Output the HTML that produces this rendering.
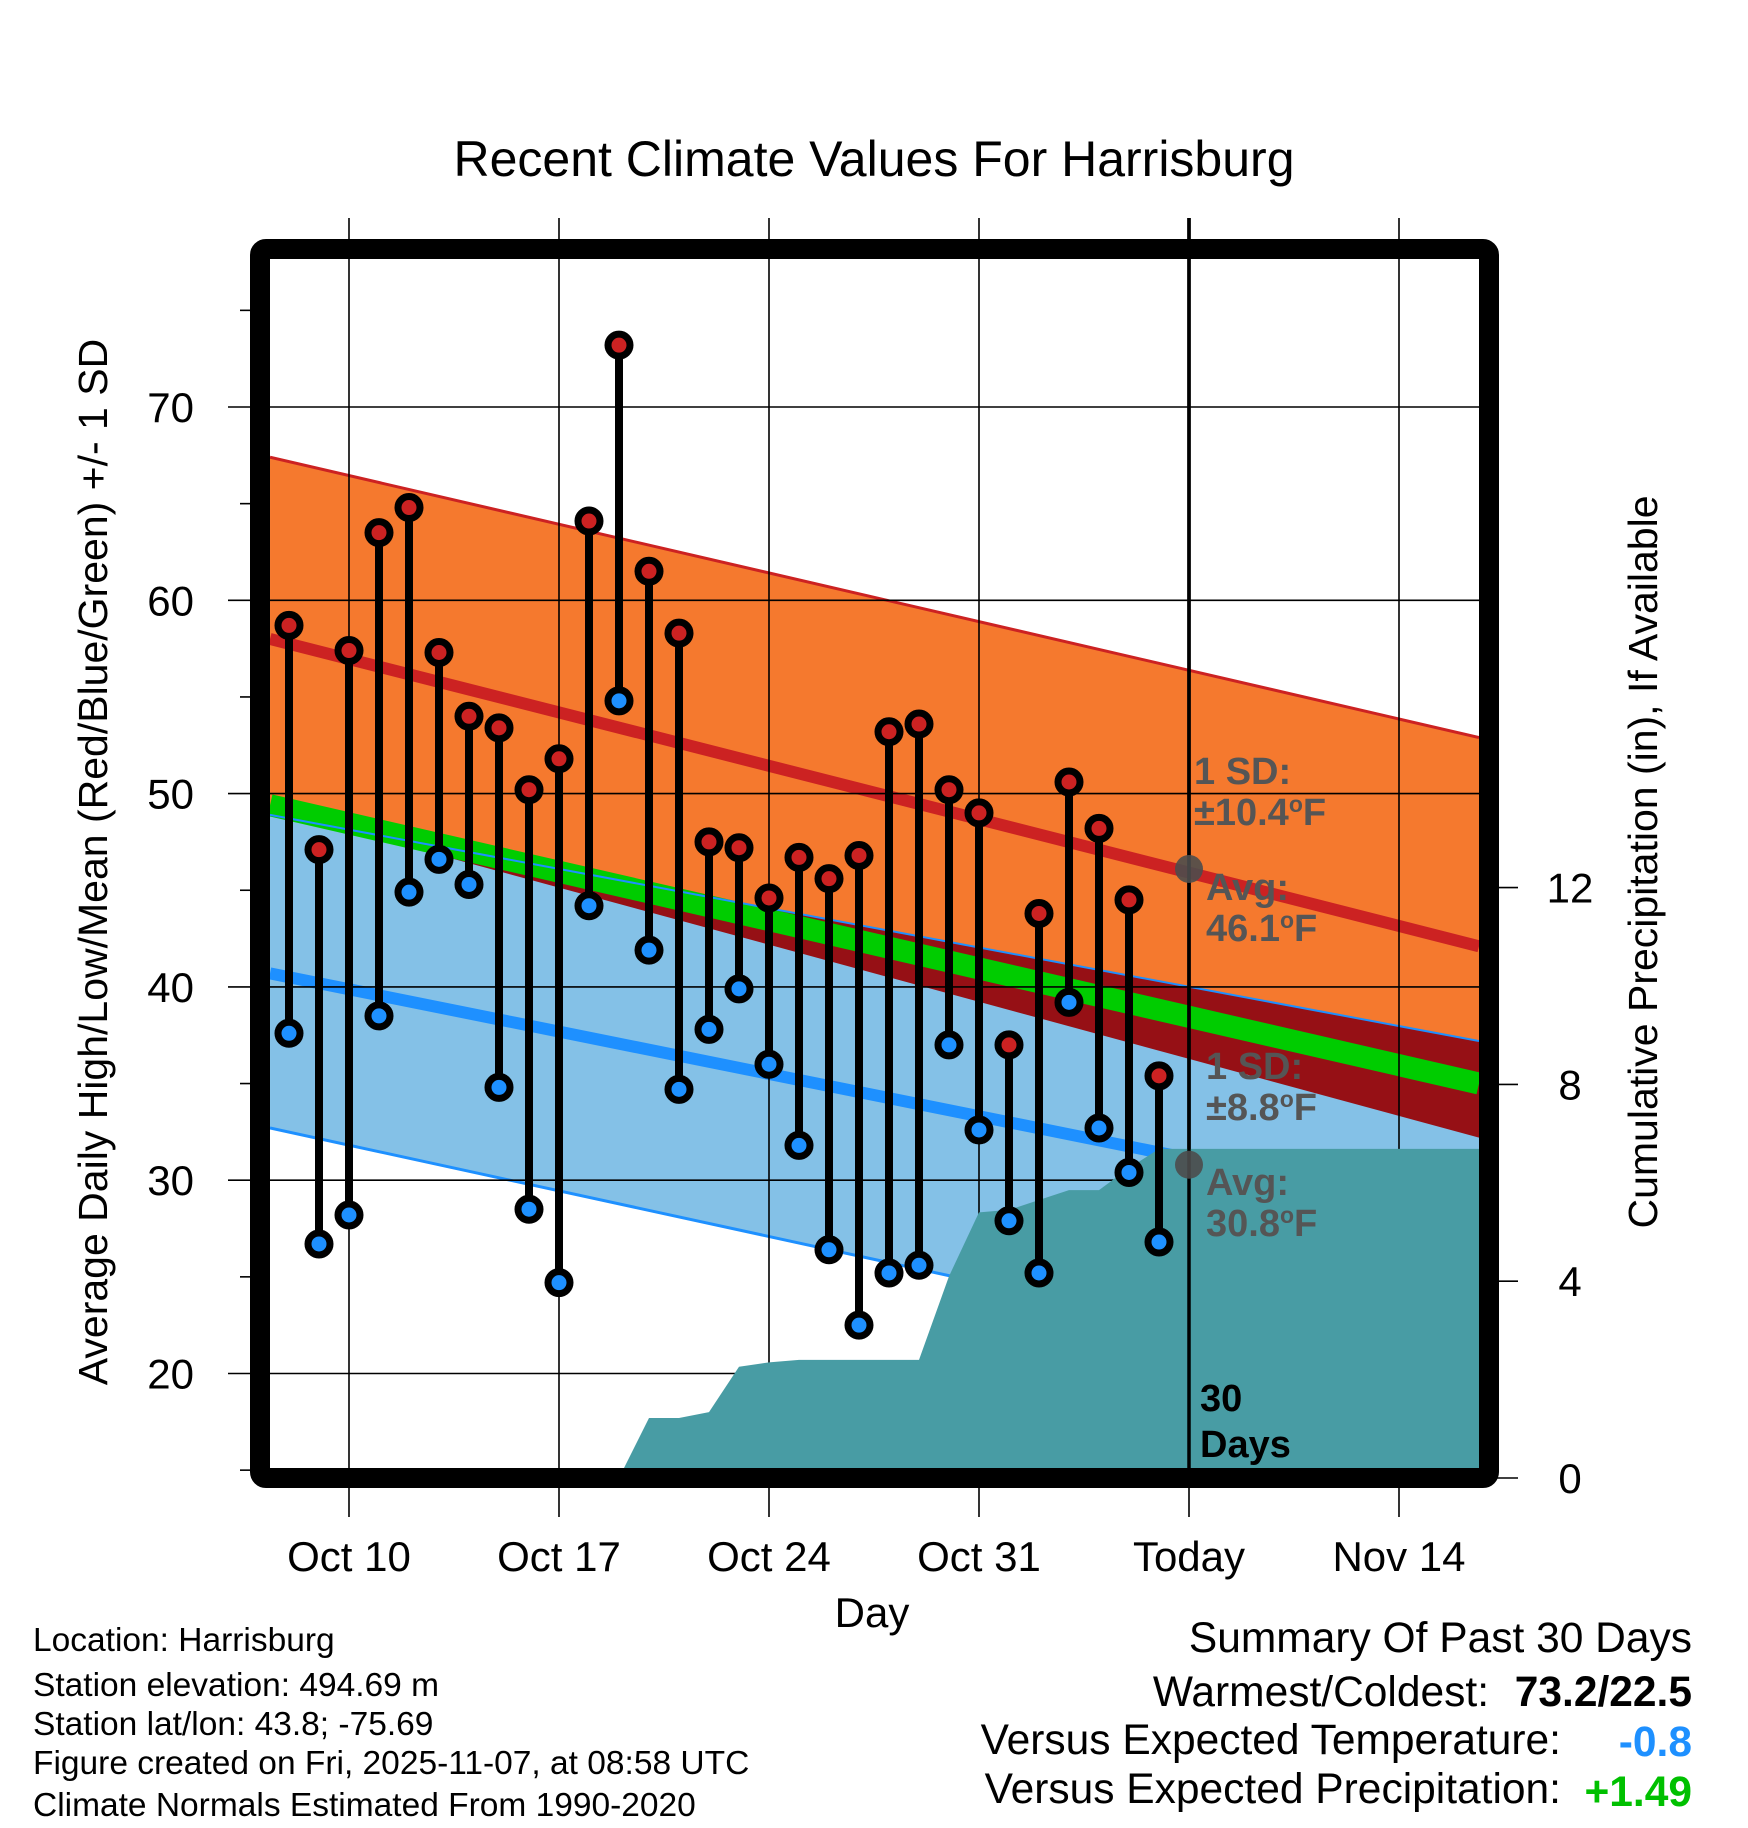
<!DOCTYPE html>
<html><head><meta charset="utf-8"><style>
html,body{margin:0;padding:0;background:#fff;}
svg{display:block;font-family:"Liberation Sans",sans-serif;}
</style></head><body>
<svg id="chart" width="1748" height="1828" viewBox="0 0 1748 1828" xmlns="http://www.w3.org/2000/svg">
<defs><clipPath id="plotclip"><rect x="270" y="259" width="1209" height="1209"/></clipPath></defs>
<text x="874" y="176" font-size="50" text-anchor="middle">Recent Climate Values For Harrisburg</text>
<g id="plot" clip-path="url(#plotclip)"></g>
<g id="axes"></g>
<g id="marks"></g>
<text transform="translate(107,862) rotate(-90)" font-size="41" text-anchor="middle">Average Daily High/Low/Mean (Red/Blue/Green) +/- 1 SD</text>
<text transform="translate(1657,862) rotate(-90)" font-size="41" text-anchor="middle">Cumulative Precipitation (in), If Available</text>
<text x="872" y="1627" font-size="42" text-anchor="middle">Day</text>
<g font-size="33.5">
<text x="33" y="1651">Location: Harrisburg</text>
<text x="33" y="1696">Station elevation: 494.69 m</text>
<text x="33" y="1735">Station lat/lon: 43.8; -75.69</text>
<text x="33" y="1774">Figure created on Fri, 2025-11-07, at 08:58 UTC</text>
<text x="33" y="1816">Climate Normals Estimated From 1990-2020</text>
</g>
<g font-size="42.5">
<text x="1692" y="1652" text-anchor="end">Summary Of Past 30 Days</text>
<text x="1489" y="1706" text-anchor="end">Warmest/Coldest:</text>
<text x="1692" y="1706" text-anchor="end" font-weight="bold">73.2/22.5</text>
<text x="1561" y="1754" text-anchor="end">Versus Expected Temperature:</text>
<text x="1692" y="1756" text-anchor="end" font-weight="bold" fill="#1E90FF">-0.8</text>
<text x="1561" y="1803" text-anchor="end">Versus Expected Precipitation:</text>
<text x="1692" y="1806" text-anchor="end" font-weight="bold" fill="#00C000">+1.49</text>
</g>
</svg>
<script>
const days = [-2,-1,0,1,2,3,4,5,6,7,8,9,10,11,12,13,14,15,16,17,18,19,20,21,22,23,24,25,26,27];
const highs = [58.7,47.1,57.4,63.5,64.8,57.3,54.0,53.4,50.2,51.8,64.1,73.2,61.5,58.3,47.5,47.2,44.6,46.7,45.6,46.8,53.2,53.6,50.2,49.0,37.0,43.8,50.6,48.2,44.5,35.4];
const lows = [37.6,26.7,28.2,38.5,44.9,46.6,45.3,34.8,28.5,24.7,44.2,54.8,41.9,34.7,37.8,39.9,36.0,31.8,26.4,22.5,25.2,25.6,37.0,32.6,27.9,25.2,39.2,32.7,30.4,26.8];
const precip = [0,0,0,0,0,0,0,0,0,0,0,0,1.22,1.22,1.34,2.26,2.35,2.4,2.4,2.4,2.4,2.4,4.1,5.4,5.45,5.65,5.85,5.85,6.3,6.69];
const edgeDays = [-2.633, 37.667];
const hiUpper = [67.4, 52.9];
const hiMean = [58.0, 42.1];
const hiLower = [49.2, 32.2];
const loUpper = [48.9, 37.2];
const loMean = [40.7, 28.1];
const loLower = [32.7, 19.1];
const meanT = [49.4, 35.0];
const yTicks = [20,30,40,50,60,70];
const yMinor = [15,25,35,45,55,65,75];
const pTicks = [0,4,8,12];
const xTickDays = [0,7,14,21,28,35];
const xTickLabels = ["Oct 10","Oct 17","Oct 24","Oct 31","Today","Nov 14"];
const todayDay = 28;
const avgHighToday = 46.1, avgLowToday = 30.8;

const NS = "http://www.w3.org/2000/svg";
function x(d){return 349 + d*30;}
function y(t){return 407 + (70-t)*19.33;}
function yp(p){return 1478 - p*49.2;}
function mk(tag, attrs, parent){const e=document.createElementNS(NS,tag);for(const k in attrs)e.setAttribute(k,attrs[k]);parent.appendChild(e);return e;}
const plot=document.getElementById('plot'), axes=document.getElementById('axes'), marks=document.getElementById('marks');
function bandPts(top,bot){
  return `${x(edgeDays[0])},${y(top[0])} ${x(edgeDays[1])},${y(top[1])} ${x(edgeDays[1])},${y(bot[1])} ${x(edgeDays[0])},${y(bot[0])}`;
}
let e;
e=mk('polygon',{points:bandPts(hiUpper,hiLower),fill:'#F5792E'},plot);


e=mk('polygon',{points:bandPts(loUpper,loLower),fill:'#84C1E7'},plot);


{
  const d0=edgeDays[0], d1=edgeDays[1];
  const f0=loUpper[0]-hiLower[0], f1=loUpper[1]-hiLower[1];
  let pts=[];
  if(f0<=0 && f1>0){
    const t=f0/(f0-f1); const dc=d0+t*(d1-d0); const tc=loUpper[0]+t*(loUpper[1]-loUpper[0]);
    pts=[[dc,tc],[d1,loUpper[1]],[d1,hiLower[1]]];
  } else {
    pts=[[d0,loUpper[0]],[d1,loUpper[1]],[d1,hiLower[1]],[d0,hiLower[0]]];
  }
  e=mk('polygon',{points:pts.map(p=>x(p[0])+','+y(p[1])).join(' '),fill:'#961015'},plot);
  
  
}
function line(arr,color,w,name){
  const l=mk('line',{x1:x(edgeDays[0]),y1:y(arr[0]),x2:x(edgeDays[1]),y2:y(arr[1]),stroke:color,'stroke-width':w},plot);
  
  
}
line(meanT,'#00CC00',22,'mean-normal-line');
line(hiUpper,'#CC2222',3,'high-upper-line');
line(loUpper,'#1E90FF',2,'low-upper-line');
line(loLower,'#1E90FF',3,'low-lower-line');
line(hiMean,'#CC2222',12,'high-normal-line');
line(loMean,'#1E90FF',12,'low-normal-line');
yTicks.forEach(t=>{
  e=mk('line',{x1:228,y1:y(t),x2:1479,y2:y(t),stroke:'#000','stroke-width':1.6},axes);
  
  
  e=mk('text',{x:194,y:y(t)+15,'font-size':42,'text-anchor':'end'},axes);
  e.textContent=t;
  
  
});
yMinor.forEach(t=>{
  e=mk('line',{x1:240,y1:y(t),x2:252,y2:y(t),stroke:'#000','stroke-width':1.6},axes);
  
  
});
xTickDays.forEach((d,i)=>{
  const isToday = d===todayDay;
  e=mk('line',{x1:x(d),y1:218,x2:x(d),y2:isToday?1470:1517,stroke:'#000','stroke-width':isToday?3.5:1.6},axes);
  
  
  if(isToday){
    e=mk('line',{x1:x(d),y1:1470,x2:x(d),y2:1517,stroke:'#000','stroke-width':1.6},axes);
    
    
  }
  e=mk('text',{x:x(d),y:1571,'font-size':42,'text-anchor':'middle'},axes);
  e.textContent=xTickLabels[i];
  
  
});
{
  let pts=[];
  pts.push([x(days[0]),yp(0)]);
  days.forEach((d,i)=>pts.push([x(d),yp(precip[i])]));
  pts.push([1479,yp(precip[precip.length-1])]);
  pts.push([1479,1478]);pts.push([x(days[0]),1478]);
  e=mk('polygon',{points:pts.map(p=>p.join(',')).join(' '),fill:'#489CA4'},axes);
  
  
}
e=mk('line',{x1:x(todayDay),y1:218,x2:x(todayDay),y2:1470,stroke:'#000','stroke-width':3.5},axes);


e=mk('rect',{x:260,y:249,width:1229,height:1229,rx:6,fill:'none',stroke:'#000','stroke-width':20},axes);


pTicks.forEach(p=>{
  e=mk('line',{x1:1497,y1:yp(p),x2:1518,y2:yp(p),stroke:'#000','stroke-width':1.6},axes);
  
  
  e=mk('text',{x:1570,y:yp(p)+15,'font-size':42,'text-anchor':'middle'},axes);
  e.textContent=p;
  
  
});
function ann(tx,ty,str,col,name){
  const t=mk('text',{x:tx,y:ty,'font-size':38,'font-weight':'bold',fill:col},axes);
  t.innerHTML=str;
  
  
}
ann(1194,784,'1 SD:','#555','high-sd-label');
ann(1194,825,'±10.4<tspan dy="-13" font-size="23">o</tspan><tspan dy="13">F</tspan>','#555','high-sd-value');
ann(1206,900,'Avg:','#555','high-avg-label');
ann(1206,941,'46.1<tspan dy="-13" font-size="23">o</tspan><tspan dy="13">F</tspan>','#555','high-avg-value');
ann(1206,1079,'1 SD:','#555','low-sd-label');
ann(1206,1120,'±8.8<tspan dy="-13" font-size="23">o</tspan><tspan dy="13">F</tspan>','#555','low-sd-value');
ann(1206,1195,'Avg:','#555','low-avg-label');
ann(1206,1236,'30.8<tspan dy="-13" font-size="23">o</tspan><tspan dy="13">F</tspan>','#555','low-avg-value');
ann(1200,1411,'30','#000','days-count');
ann(1200,1457,'Days','#000','days-label');
days.forEach((d,i)=>{
  const g=mk('g',{},marks);
  
  
  mk('line',{x1:x(d),y1:y(highs[i]),x2:x(d),y2:y(lows[i]),stroke:'#000','stroke-width':8},g);
  const c1=mk('circle',{cx:x(d),cy:y(highs[i]),r:11,fill:'#CC2222',stroke:'#000','stroke-width':7},g);
  
  
  const c2=mk('circle',{cx:x(d),cy:y(lows[i]),r:11,fill:'#1E90FF',stroke:'#000','stroke-width':7},g);
  
  
});
e=mk('circle',{cx:x(todayDay),cy:y(avgHighToday),r:14,fill:'#4d4d4d','fill-opacity':0.9},marks);


e=mk('circle',{cx:x(todayDay),cy:y(avgLowToday),r:14,fill:'#4d4d4d','fill-opacity':0.9},marks);


</script>
</body></html>
